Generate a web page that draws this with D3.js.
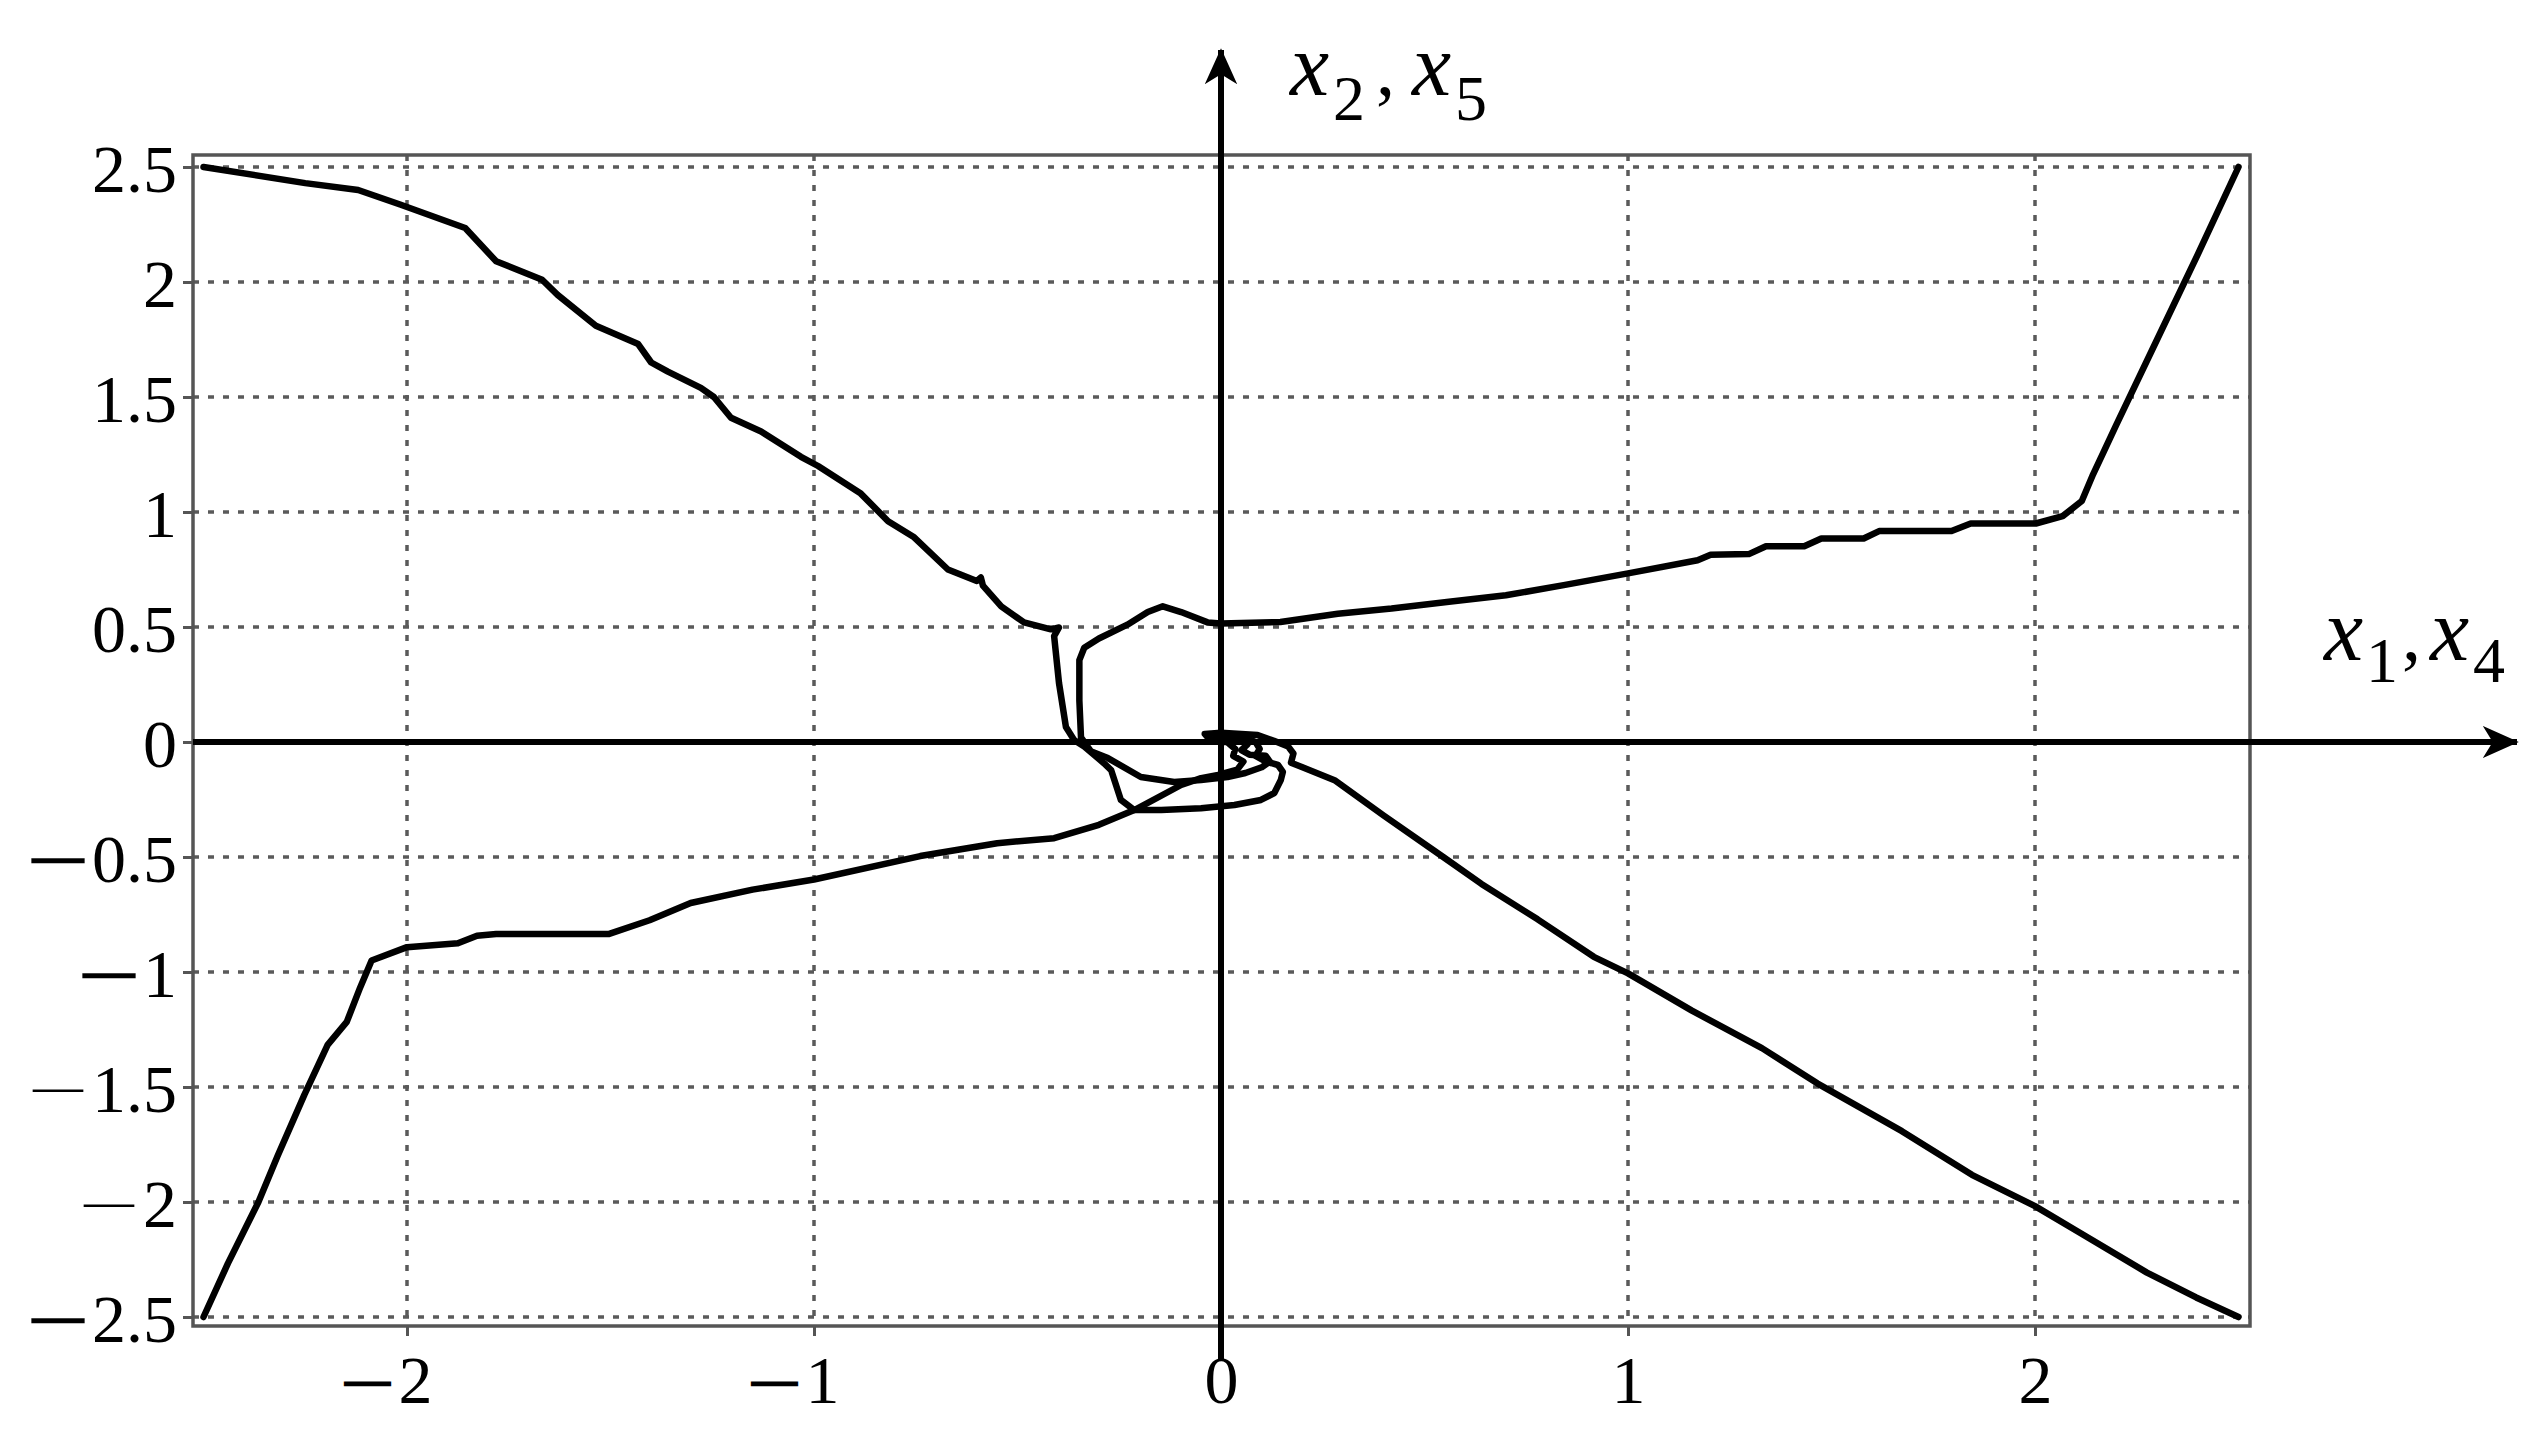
<!DOCTYPE html>
<html>
<head>
<meta charset="utf-8">
<script src="https://cdn.jsdelivr.net/npm/d3@7"></script>
<style>
  html, body { margin: 0; padding: 0; background: #fff; }
  svg { display: block; }
</style>
</head>
<body>
<svg id="chart" width="2545" height="1440"></svg>
<script>
// ---------- data ----------
const xTicks = [-2, -1, 0, 1, 2];
const yTicks = [-2.5, -2, -1.5, -1, -0.5, 0, 0.5, 1, 1.5, 2, 2.5];
const xGrid = [-2, -1, 1, 2];
const yGrid = [-2.5, -2, -1.5, -1, -0.5, 0.5, 1, 1.5, 2, 2.5];
const xThickMinus = [-2, -1];
const yThickMinus = [-0.5, -1, -2.5];

// trajectory starting near (-2.5, 2.5)
const traj1 = [
  [-2.5,2.5],[-2.25,2.43],[-2.12,2.40],[-2.017,2.337],[-1.857,2.235],[-1.781,2.09],
  [-1.668,2.01],[-1.63,1.944],[-1.536,1.81],[-1.432,1.73],[-1.40,1.65],[-1.359,1.61],
  [-1.278,1.54],[-1.246,1.50],[-1.204,1.41],[-1.13,1.35],[-1.032,1.24],[-0.99,1.20],
  [-0.885,1.08],[-0.818,0.96],[-0.754,0.89],[-0.671,0.75],[-0.60,0.70],[-0.59,0.715],
  [-0.585,0.68],[-0.54,0.59],[-0.484,0.52],[-0.418,0.49],[-0.398,0.498],[-0.41,0.46],
  [-0.398,0.256],[-0.381,0.065],[-0.361,0.009],[-0.336,-0.02],[-0.287,-0.093],[-0.27,-0.122],
  [-0.246,-0.252],[-0.213,-0.296],[-0.147,-0.296],[-0.049,-0.288],[0.033,-0.274],[0.098,-0.252],
  [0.131,-0.222],[0.147,-0.165],[0.152,-0.13],[0.14,-0.1],[0.11,-0.085],[0.085,-0.06],
  [0.095,-0.03],[0.085,0.0],[0.05,0.025],[0.0,0.03],[-0.02,0.01]
];
// trajectory starting near (2.5, 2.5)
const traj2 = [
  [2.5,2.5],[2.4,2.12],[2.3,1.75],[2.2,1.38],[2.171,1.27],[2.143,1.165],[2.115,1.048],
  [2.068,0.982],[2.002,0.95],[1.842,0.95],[1.795,0.917],[1.617,0.917],[1.579,0.885],
  [1.475,0.885],[1.433,0.851],[1.339,0.851],[1.297,0.817],[1.203,0.814],[1.171,0.79],
  [1.0,0.733],[0.842,0.682],[0.70,0.638],[0.56,0.61],[0.419,0.58],[0.287,0.558],
  [0.146,0.522],[0.0,0.515],[-0.033,0.52],[-0.098,0.565],[-0.143,0.59],[-0.18,0.565],
  [-0.23,0.51],[-0.30,0.45],[-0.336,0.41],[-0.348,0.356],[-0.348,0.18],[-0.344,0.02],
  [-0.32,-0.04],[-0.278,-0.07],[-0.197,-0.152],[-0.115,-0.174],[-0.049,-0.165],[0.016,-0.152],
  [0.06,-0.135],[0.1,-0.11],[0.12,-0.085],[0.11,-0.06],[0.07,-0.055],[0.05,-0.035],
  [0.065,-0.01],[0.04,0.015],[0.0,0.02]
];
// trajectory starting near (-2.5, -2.5)
const traj3 = [
  [-2.5,-2.5],[-2.44,-2.267],[-2.365,-2.0],[-2.318,-1.80],[-2.252,-1.533],[-2.195,-1.317],
  [-2.148,-1.217],[-2.115,-1.067],[-2.087,-0.95],[-2.0,-0.892],[-1.875,-0.875],[-1.828,-0.842],
  [-1.781,-0.835],[-1.505,-0.835],[-1.404,-0.775],[-1.303,-0.70],[-1.151,-0.642],[-1.0,-0.598],
  [-0.739,-0.496],[-0.55,-0.44],[-0.41,-0.418],[-0.30,-0.36],[-0.213,-0.296],[-0.098,-0.187],
  [-0.049,-0.157],[-0.007,-0.143],[0.04,-0.12],[0.055,-0.085],[0.03,-0.06],[0.035,-0.03],
  [0.015,0.0],[0.0,0.0]
];
// trajectory starting near (2.5, -2.5)
const traj4 = [
  [2.5,-2.5],[2.396,-2.415],[2.275,-2.307],[2.103,-2.126],[2.0,-2.018],[1.845,-1.882],
  [1.673,-1.692],[1.466,-1.485],[1.329,-1.331],[1.157,-1.168],[1.0,-1.006],[0.916,-0.934],
  [0.778,-0.771],[0.64,-0.617],[0.546,-0.5],[0.40,-0.32],[0.279,-0.166],[0.197,-0.108],
  [0.172,-0.09],[0.178,-0.05],[0.165,-0.02],[0.13,0.005],[0.09,0.03],[0.0,0.04],
  [-0.04,0.035],[-0.03,0.015],[0.0,0.0]
];
const trajectories = [traj1, traj2, traj3, traj4];

// ---------- drawing ----------
const svg = d3.select("#chart");
const x = d3.scaleLinear().domain([-2.5, 2.5]).range([203.5, 2238.5]);
const y = d3.scaleLinear().domain([-2.5, 2.5]).range([1317, 167]);

const frame = {
  l: x.range()[0] - 10.5,
  r: x.range()[1] + 11.5,
  t: y.range()[1] - 12,
  b: y.range()[0] + 9
};

const serif = "Liberation Serif, Times New Roman, serif";
const gridColor = "#5a5a5a";
const frameColor = "#555";

// arrow marker
const defs = svg.append("defs");
defs.append("marker")
  .attr("id", "arrow")
  .attr("viewBox", "0 0 40 40")
  .attr("markerUnits", "userSpaceOnUse")
  .attr("markerWidth", 36)
  .attr("markerHeight", 36)
  .attr("refX", 38)
  .attr("refY", 20)
  .attr("orient", "auto")
  .append("path")
  .attr("d", "M0,2 L40,20 L0,38 L11,20 Z")
  .attr("fill", "#000");

// grid
svg.append("g").selectAll("line").data(yGrid).join("line")
  .attr("x1", frame.l).attr("x2", frame.r)
  .attr("y1", d => y(d)).attr("y2", d => y(d))
  .attr("stroke", gridColor).attr("stroke-width", 3.5)
  .attr("stroke-dasharray", "6,9");
svg.append("g").selectAll("line").data(xGrid).join("line")
  .attr("y1", frame.t).attr("y2", frame.b)
  .attr("x1", d => x(d)).attr("x2", d => x(d))
  .attr("stroke", gridColor).attr("stroke-width", 3.5)
  .attr("stroke-dasharray", "6,9");

// frame
svg.append("rect")
  .attr("x", frame.l).attr("y", frame.t)
  .attr("width", frame.r - frame.l).attr("height", frame.b - frame.t)
  .attr("fill", "none").attr("stroke", frameColor).attr("stroke-width", 3.5);

// axes with tick labels
function minusLabel(sel, thickSet, dashSize) {
  sel.each(function(d) {
    const t = d3.select(this);
    const a = String(Math.abs(d));
    t.text(null);
    if (d < 0) {
      const dash = t.append("tspan")
        .attr("font-size", dashSize)
        .attr("dy", -9)
        .text("\u2014");
      if (thickSet.includes(d)) dash.attr("stroke", "#000").attr("stroke-width", 2.6);
      t.append("tspan").attr("dx", 9).attr("dy", 9).text(a);
    } else {
      t.text(a);
    }
  });
}

const gx = svg.append("g")
  .attr("transform", `translate(0,${frame.b})`)
  .call(d3.axisBottom(x).tickValues(xTicks).tickSize(10).tickPadding(19));
gx.select(".domain").remove();
gx.attr("font-family", serif).attr("font-size", 68);
gx.selectAll(".tick line").attr("stroke", frameColor).attr("stroke-width", 3);
gx.selectAll(".tick text")
  .attr("font-family", serif).attr("font-size", 68).attr("fill", "#000")
  .attr("text-anchor", "end").attr("x", d => d < 0 ? 25 : 17)
  .attr("y", 77).attr("dy", 0)
  .call(minusLabel, xThickMinus, 44);

const gy = svg.append("g")
  .attr("transform", `translate(${frame.l},0)`)
  .call(d3.axisLeft(y).tickValues(yTicks).tickSize(10).tickPadding(6));
gy.select(".domain").remove();
gy.attr("font-family", serif).attr("font-size", 68);
gy.selectAll(".tick line").attr("stroke", frameColor).attr("stroke-width", 3);
gy.selectAll(".tick text")
  .attr("font-family", serif).attr("font-size", 68).attr("fill", "#000")
  .attr("y", 24).attr("dy", 0)
  .call(minusLabel, yThickMinus, 50);

// main axes through the origin
svg.append("line")
  .attr("x1", frame.l).attr("x2", 2517)
  .attr("y1", y(0)).attr("y2", y(0))
  .attr("stroke", "#000").attr("stroke-width", 6)
  .attr("marker-end", "url(#arrow)");
svg.append("line")
  .attr("x1", x(0)).attr("x2", x(0))
  .attr("y1", 1360).attr("y2", 50)
  .attr("stroke", "#000").attr("stroke-width", 6)
  .attr("marker-end", "url(#arrow)");

// trajectories
const line = d3.line().x(d => x(d[0])).y(d => y(d[1]));
svg.append("g").selectAll("path").data(trajectories).join("path")
  .attr("d", line)
  .attr("fill", "none")
  .attr("stroke", "#000")
  .attr("stroke-width", 6.5)
  .attr("stroke-linejoin", "round")
  .attr("stroke-linecap", "round");

// axis titles
function axisTitle(px, py, sub1, sub2, subDy, off) {
  const t = svg.append("text")
    .attr("font-family", serif).attr("fill", "#000").attr("font-size", 88);
  t.append("tspan").attr("x", px).attr("y", py).attr("font-style", "italic").text("x");
  t.append("tspan").attr("x", px + off[0]).attr("y", py + subDy).attr("font-size", 64).text(sub1);
  t.append("tspan").attr("x", px + off[1]).attr("y", py).attr("font-size", 76).text(",");
  t.append("tspan").attr("x", px + off[2]).attr("y", py).attr("font-style", "italic").text("x");
  t.append("tspan").attr("x", px + off[3]).attr("y", py + subDy).attr("font-size", 64).text(sub2);
}
axisTitle(1290, 95, "2", "5", 25, [43, 86, 122, 165]);
axisTitle(2324, 660, "1", "4", 22, [42, 78, 106, 149]);
</script>
</body>
</html>
